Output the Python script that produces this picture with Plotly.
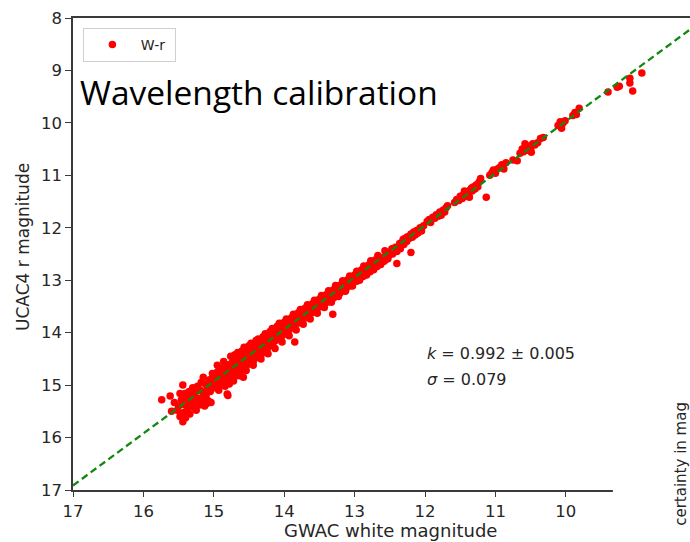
import plotly.graph_objects as go

# ---- data ----
faint = [(15.74,15.28),(15.62,15.21),(15.60,15.50),(15.56,15.33),(15.52,15.48),(15.50,15.40),(15.48,15.16),(15.48,15.60),
         (15.46,15.28),(15.44,15.00),(15.44,15.70),(15.43,15.52),(15.41,15.16),(15.41,15.38),(15.40,15.62),(15.38,15.25),
         (15.37,15.45),(15.35,15.12),(15.34,15.55),(15.33,15.35),(15.31,15.22),(15.30,15.05),(15.29,15.42),(15.27,15.15),
         (15.26,15.30),(15.25,15.48),(15.23,15.02),(15.22,15.25),(15.20,15.38),(15.19,15.10),(15.18,14.95),(15.16,15.28),
         (15.15,15.15),(15.13,15.40),(15.12,14.98),(15.11,15.20),(15.09,15.05),(15.08,15.30),(15.06,14.90),(15.05,15.12),
         (15.04,15.33),(15.03,14.98),(15.01,15.05),(15.00,14.85),(15.15,14.85),(15.10,15.35),(15.02,14.78)]
mid_faint = [(14.99,14.95),(14.98,14.82),(14.97,15.05),(14.96,14.90),(14.95,14.75),(14.94,14.98),(14.93,14.85),(14.92,14.72),
             (14.91,15.00),(14.90,14.88),(14.89,14.80),(14.88,14.95),(14.87,14.68),(14.86,14.85),(14.85,14.90),(14.84,14.75),
             (14.83,14.62),(14.82,14.82),(14.81,15.17),(14.80,14.70),(14.80,15.20),(14.79,14.88),(14.78,14.78),(14.77,14.60),
             (14.76,14.72),(14.75,14.82),(14.74,14.65),(14.73,14.55),(14.72,14.75),(14.71,14.85),(14.70,14.62),(14.69,14.70),
             (14.68,14.52),(14.67,14.65),(14.66,14.75),(14.65,14.58),(14.64,14.48),(14.63,14.66),(14.62,14.55),(14.61,14.72),
             (14.60,14.45),(14.59,14.58),(14.58,14.85),(14.57,14.50),(14.56,14.62),(14.55,14.42),(14.54,14.55),(14.53,14.48),
             (14.52,14.35),(14.51,14.60),(14.50,14.45),
             (14.95,14.62),(14.93,15.10),(14.90,14.68),(14.86,14.55),(14.84,15.02),(14.78,14.98),(14.76,14.45),(14.72,14.92),
             (14.70,14.42),(14.66,14.38),(14.63,14.82),(14.60,14.35),(14.57,14.28),(14.54,14.72),(14.50,14.25),
             (14.49,14.38),(14.48,14.52),(14.47,14.30),(14.46,14.45),(14.45,14.38),(14.44,14.55),(14.43,14.28),(14.42,14.42),
             (14.41,14.35),(14.40,14.48),(14.39,14.25),(14.38,14.38),(14.37,14.30),(14.36,14.45),(14.35,14.20),(14.34,14.35),
             (14.33,14.28),(14.32,14.40),(14.31,14.18),(14.30,14.30),(14.29,14.22),(14.28,14.35),(14.27,14.12),(14.26,14.25),
             (14.25,14.18),(14.24,14.30),(14.23,14.10),(14.22,14.20),(14.21,14.14),(14.20,14.25),(14.19,14.05),(14.18,14.15),
             (14.17,14.08),(14.16,14.20),(14.15,14.02),(14.14,14.12),(14.13,14.05),(14.12,14.15),(14.11,13.98),(14.10,14.08),
             (14.09,14.02),(14.08,14.12),(14.07,13.95),(14.06,14.04),(14.05,13.98),(14.04,14.08),(14.03,13.90),(14.02,14.00),
             (14.01,13.93),(14.00,14.03),
             (14.47,14.20),(14.44,14.62),(14.40,14.15),(14.37,14.12),(14.33,14.50),(14.30,14.08),(14.27,14.02),(14.23,14.40),
             (14.20,13.98),(14.17,13.92),(14.13,14.30),(14.10,13.88),(14.07,13.82),(14.03,14.18),(14.00,13.80)]
middle = [(13.99,13.88),(13.98,13.96),(13.96,13.85),(13.95,13.92),(13.94,13.82),(13.93,13.95),(13.91,13.85),(13.90,13.78),
          (13.89,13.90),(13.88,13.82),(13.86,13.75),(13.85,14.18),(13.85,13.85),(13.83,13.78),(13.82,13.70),(13.81,13.82),
          (13.79,13.74),(13.78,13.66),(13.77,13.78),(13.75,13.70),(13.74,13.62),(13.73,13.75),(13.71,13.66),(13.70,13.58),
          (13.69,13.70),(13.67,13.62),(13.66,13.55),(13.65,13.66),(13.63,13.58),(13.62,13.50),(13.61,13.62),(13.59,13.54),
          (13.58,13.47),(13.57,13.58),(13.55,13.50),(13.54,13.43),(13.53,13.54),(13.51,13.46),(13.50,13.40),
          (13.97,13.74),(13.93,14.06),(13.90,13.72),(13.87,13.65),(13.83,13.95),(13.80,13.62),(13.77,13.56),(13.73,13.84),
          (13.70,13.53),(13.67,13.47),(13.63,13.74),(13.60,13.45),(13.57,13.38),(13.53,13.63),(13.50,13.36),
          (13.48,13.50),(13.47,13.42),(13.45,13.36),(13.44,13.46),(13.42,13.38),(13.41,13.32),(13.39,13.42),(13.38,13.34),
          (13.36,13.28),(13.35,13.38),(13.33,13.30),(13.31,13.65),(13.31,13.24),(13.30,13.34),(13.28,13.26),(13.27,13.20),
          (13.25,13.30),(13.24,13.22),(13.22,13.15),(13.21,13.25),(13.19,13.18),(13.18,13.12),(13.16,13.20),(13.15,13.13),
          (13.13,13.07),(13.12,13.16),(13.10,13.08),(13.09,13.02),(13.07,13.11),(13.06,13.04),(13.04,12.98),(13.03,13.07),
          (13.01,13.00),
          (13.47,13.29),(13.43,13.52),(13.40,13.27),(13.37,13.20),(13.33,13.42),(13.30,13.18),(13.27,13.10),(13.23,13.31),
          (13.20,13.09),(13.17,13.01),(13.13,13.21),(13.10,12.99),(13.07,12.92),(13.03,13.11),(13.00,12.90)]
mid_bright = [(12.99,12.93),(12.97,13.02),(12.96,12.95),(12.94,12.88),(12.93,12.97),(12.91,12.90),(12.89,12.84),(12.88,12.93),
              (12.86,12.86),(12.84,12.80),(12.83,12.88),(12.81,12.82),(12.79,12.76),(12.78,12.84),(12.76,12.77),(12.74,12.71),
              (12.73,12.80),(12.71,12.72),(12.69,12.66),(12.68,12.74),(12.66,12.68),(12.64,12.62),(12.63,12.70),(12.61,12.62),
              (12.59,12.56),(12.58,12.64),(12.56,12.57),(12.54,12.51),(12.53,12.59),(12.51,12.52),
              (12.97,12.83),(12.93,13.00),(12.90,12.80),(12.87,12.73),(12.83,12.90),(12.80,12.71),(12.77,12.63),(12.73,12.79),
              (12.70,12.61),(12.67,12.53),(12.63,12.69),(12.57,12.44),(12.53,12.59),
              (12.49,12.46),(12.47,12.40),(12.46,12.50),(12.44,12.42),(12.42,12.37),(12.40,12.68),(12.40,12.45),(12.38,12.36),
              (12.36,12.30),(12.35,12.40),(12.33,12.28),(12.31,12.22),(12.30,12.32),(12.28,12.20),(12.26,12.26),(12.25,12.17),
              (12.22,12.20),(12.20,12.47),(12.20,12.12),(12.18,12.18),(12.16,12.08),(12.14,12.14),(12.12,12.05),(12.10,12.10),
              (12.07,12.00),(12.05,12.06),(12.02,11.96)]
bright = [(11.97,11.88),(11.94,11.84),(11.92,11.90),(11.89,11.80),(11.86,11.82),(11.84,11.75),(11.81,11.78),(11.79,11.70),
          (11.77,11.76),(11.74,11.66),(11.72,11.70),(11.70,11.62),(11.68,11.58),
          (11.58,11.52),(11.55,11.46),(11.52,11.48),(11.50,11.40),(11.47,11.44),(11.45,11.36),(11.42,11.40),(11.40,11.32),
          (11.38,11.38),(11.36,11.28),(11.33,11.30),(11.31,11.22),(11.29,11.26),(11.27,11.18),(11.25,11.22),(11.23,11.12),
          (11.21,11.06),(11.13,11.42),(11.44,11.30),(11.37,11.42),(11.34,11.24),
          (11.08,11.00),(11.05,10.95),(11.03,10.90),(11.00,10.96),(10.97,10.88),(10.94,10.85),(10.91,10.80),(10.88,10.88),
          (10.85,10.76),(10.75,10.71),(10.69,10.72),
          (10.65,10.58),(10.62,10.50),(10.60,10.55),(10.57,10.47),(10.54,10.52),(10.52,10.44),(10.50,10.50),(10.47,10.40),
          (10.44,10.42),(10.40,10.38),(10.36,10.30),(10.32,10.28),(10.58,10.40),(10.49,10.56),
          (10.11,10.05),(10.08,9.98),(10.06,10.10),(10.04,10.00),(10.01,9.96),
          (9.90,9.86),(9.87,9.80),(9.85,9.84),(9.81,9.72),
          (9.40,9.41),(9.27,9.32),(9.24,9.30),(9.09,9.15),(9.09,9.24),(9.05,9.39),(8.92,9.05)]

all_points = faint + mid_faint + middle + mid_bright + bright
gwac_white = [p[0] for p in all_points]
ucac4_r = [p[1] for p in all_points]

fit_slope = 0.992
fit_slope_err = 0.005
fit_intercept = 0.05
fit_sigma = 0.079
fit_x = [17.0, 8.0]
fit_y = [fit_slope * v + fit_intercept for v in fit_x]

x_ticks = [17, 16, 15, 14, 13, 12, 11, 10]
y_ticks = [8, 9, 10, 11, 12, 13, 14, 15, 16, 17]

TXT = "#262626"
AX = "#3a3a3a"
NB = "\u00a0"

fig = go.Figure()
fig.add_trace(go.Scatter(x=gwac_white, y=ucac4_r, mode="markers", name="W-r" + NB,
                         marker=dict(color="#ff0000", size=7.5, line=dict(width=0))))
fig.add_trace(go.Scatter(x=fit_x, y=fit_y, mode="lines", showlegend=False,
                         line=dict(color="#118811", width=2.3, dash="7px,4px")))

fig.update_layout(
    width=690, height=542,
    margin=dict(l=73, r=0, t=18, b=52),
    plot_bgcolor="white", paper_bgcolor="white",
    font=dict(family="DejaVu Sans", color=TXT, size=15),
    legend=dict(x=0.016, y=0.979, xanchor="left", yanchor="top",
                bgcolor="white", bordercolor="#d0d0d0", borderwidth=1,
                font=dict(size=14, color=TXT), itemsizing="trace", itemwidth=47),
    xaxis=dict(range=[17, 8.236], tickvals=x_ticks, ticktext=[str(v) for v in x_ticks],
               showgrid=False, zeroline=False, showline=True, linecolor=AX, linewidth=1.5,
               mirror=True, ticks="outside", ticklen=5, tickcolor=AX, tickwidth=1.2,
               tickfont=dict(size=16.5, color=TXT)),
    yaxis=dict(range=[17, 8], tickvals=y_ticks, ticktext=[str(v) for v in y_ticks],
               showgrid=False, zeroline=False, showline=True, linecolor=AX, linewidth=1.5,
               mirror=False, ticks="outside", ticklen=6, tickcolor=AX, tickwidth=1.2,
               tickfont=dict(size=16.5, color=TXT)),
)

# white panel hiding the right part of the lower axis (as in the pasted reference)
fig.add_shape(type="rect", xref="paper", yref="paper", x0=0.875, x1=1.02, y0=-0.2, y1=0.80,
              fillcolor="white", line=dict(width=0), layer="above")

# axis titles
fig.add_annotation(text="GWAC white magnitude", xref="paper", yref="paper", x=0.514, y=-0.086,
                   xanchor="center", yanchor="middle", showarrow=False,
                   font=dict(size=18, color=TXT))
fig.add_annotation(text="UCAC4 r magnitude", xref="paper", yref="paper", x=-0.081, y=0.515,
                   xanchor="center", yanchor="middle", textangle=-90, showarrow=False,
                   font=dict(size=17, color=TXT))

fig.add_annotation(text="Wavelength calibration", xref="paper", yref="paper", x=0.008, y=0.843,
                   xanchor="left", yanchor="middle", showarrow=False,
                   font=dict(family="Open Sans", size=33.5, color="#000000"))
fig.add_annotation(text=f"<i>k</i> = {fit_slope:.3f} ± {fit_slope_err:.3f}", xref="x", yref="y",
                   x=12.0, y=14.39, xanchor="left", yanchor="middle", showarrow=False,
                   font=dict(size=16, color=TXT))
fig.add_annotation(text=f"<i>σ</i> = {fit_sigma:.3f}", xref="x", yref="y",
                   x=12.0, y=14.9, xanchor="left", yanchor="middle", showarrow=False,
                   font=dict(size=16, color=TXT))
fig.add_annotation(text="certainty in mag", xref="paper", yref="paper", x=0.985, y=0.055,
                   xanchor="center", yanchor="middle", textangle=-90, showarrow=False,
                   font=dict(size=15, color=TXT))

fig.write_html("out.html")
